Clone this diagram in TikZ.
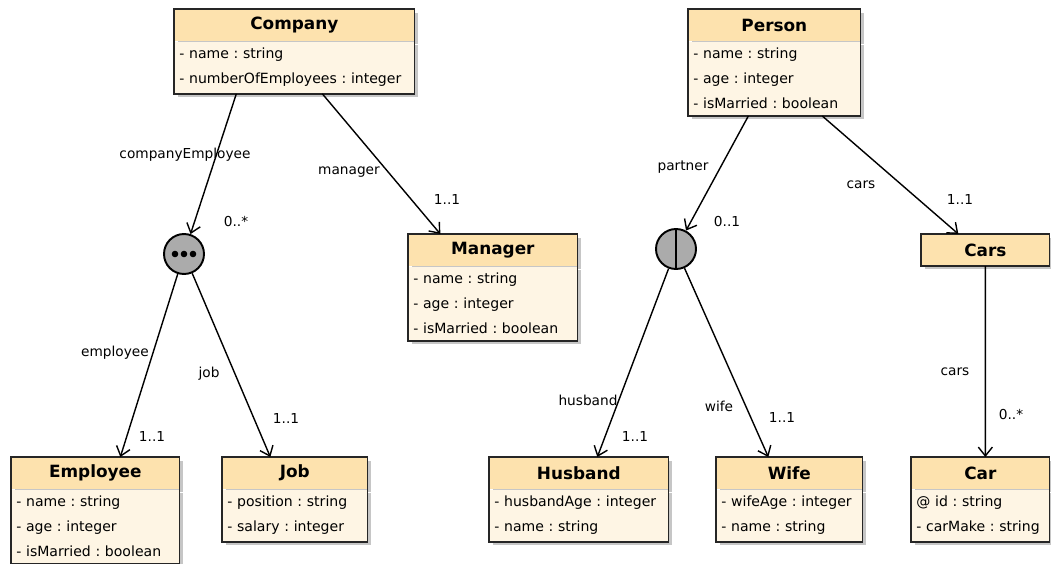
\documentclass[tikz,border=0pt]{standalone}
\usepackage{fontspec}
\setmainfont{DejaVu Sans}
\usetikzlibrary{arrows.meta,shadows}
\frenchspacing

\definecolor{headfill}{HTML}{FDE2AE}
\definecolor{bodyfill}{HTML}{FEF5E4}
\definecolor{choicefill}{HTML}{ABABAB}

\newcommand{\attrfont}{\fontsize{8}{14.2}\selectfont}

\begin{document}
\begin{tikzpicture}[x=0.02cm,y=-0.02cm]
        \tikzset{
            classhead/.style={anchor=north west,fill=headfill,minimum width=#1,minimum height=0.63cm,inner sep=0pt,
                font=\fontsize{9.6}{11}\selectfont\bfseries,
                drop shadow={shadow xshift=2pt,shadow yshift=-2pt,opacity=0.45}},
            classbody/.style={anchor=north west,fill=bodyfill,text width=#1,inner xsep=0.1cm,inner ysep=3.8pt,
                align=left,font=\attrfont,
                drop shadow={shadow xshift=2pt,shadow yshift=-2pt,opacity=0.45}},
            frame/.style={draw=black!85,line width=0.85pt},
            choice/.style={circle,draw=black,line width=1.1pt,fill=choicefill,minimum size=0.8cm,inner sep=0pt},
            link/.style={-{Straight Barb[length=5pt,width=8pt]},line width=0.8pt},
            role/.style={font=\fontsize{7.8}{9}\selectfont,inner sep=1pt},
        }
        \useasboundingbox (0,0) rectangle (1051,564);

        % classes
        \node[classhead=4.8cm] (company) at (174,9) {Company};
        \node[classbody=4.6cm] (companybody) at (company.south west) {- name : string\\- numberOfEmployees : integer};
        \draw[frame] (company.north west) rectangle (companybody.south east);

        \node[classhead=3.44cm] (person) at (688,9) {Person};
        \node[classbody=3.24cm] (personbody) at (person.south west) {- name : string\\- age : integer\\- isMarried : boolean};
        \draw[frame] (person.north west) rectangle (personbody.south east);

        \node[classhead=3.38cm] (manager) at (408,234) {Manager};
        \node[classbody=3.18cm] (managerbody) at (manager.south west) {- name : string\\- age : integer\\- isMarried : boolean};
        \draw[frame] (manager.north west) rectangle (managerbody.south east);

        \node[classhead=2.56cm] (cars) at (921,234) {Cars};
        \draw[frame] (cars.north west) rectangle (cars.south east);

        \node[classhead=3.36cm] (employee) at (11,457) {Employee};
        \node[classbody=3.16cm] (employeebody) at (employee.south west) {- name : string\\- age : integer\\- isMarried : boolean};
        \draw[frame] (employee.north west) rectangle (employeebody.south east);

        \node[classhead=2.9cm] (job) at (222,457) {Job};
        \node[classbody=2.7cm] (jobbody) at (job.south west) {- position : string\\- salary : integer};
        \draw[frame] (job.north west) rectangle (jobbody.south east);

        \node[classhead=3.58cm] (husband) at (489,457) {Husband};
        \node[classbody=3.38cm] (husbandbody) at (husband.south west) {- husbandAge : integer\\- name : string};
        \draw[frame] (husband.north west) rectangle (husbandbody.south east);

        \node[classhead=2.92cm] (wife) at (716,457) {Wife};
        \node[classbody=2.72cm] (wifebody) at (wife.south west) {- wifeAge : integer\\- name : string};
        \draw[frame] (wife.north west) rectangle (wifebody.south east);

        \node[classhead=2.76cm] (car) at (911,457) {Car};
        \node[classbody=2.56cm] (carbody) at (car.south west) {@ id : string\\- carMake : string};
        \draw[frame] (car.north west) rectangle (carbody.south east);

        % choice points
        \node[choice] (allof) at (184,254) {};
        \fill (allof.center) +(-9,0) circle (3.3) +(0,0) circle (3.3) +(9,0) circle (3.3);
        \node[choice] (oneof) at (676,249) {};
        \draw[line width=1.1pt] (oneof.north) -- (oneof.south);

        % references
        \draw[link] ([xshift=-1.16cm]companybody.south) -- (allof);
        \draw[link] ([xshift=0.56cm]companybody.south) -- ([xshift=-1.05cm]manager.north);
        \draw[link] (allof) -- ([xshift=0.5cm]employee.north);
        \draw[link] (allof) -- ([xshift=-0.49cm]job.north);
        \draw[link] ([xshift=-0.52cm]personbody.south) -- (oneof);
        \draw[link] ([xshift=0.96cm]personbody.south) -- ([xshift=-0.54cm]cars.north);
        \draw[link] (oneof) -- ([xshift=0.37cm]husband.north);
        \draw[link] (oneof) -- ([xshift=-0.42cm]wife.north);
        \draw[link] (cars.south) -- ([xshift=0.1cm]car.north);

        % role names and multiplicities
        \node[role] (rcompemp) at (185,155) {companyEmployee};
        \node[role] (mcompemp) at (236,222) {0..*};
        \node[role] (rmanager) at (349,172) {manager};
        \node[role] (mmanager) at (447,200) {1..1};
        \node[role] (remployee) at (115,353) {employee};
        \node[role] (memployee) at (152,437) {1..1};
        \node[role] (rjob) at (209,374) {job};
        \node[role] (mjob) at (286,419) {1..1};
        \node[role] (rpartner) at (683,167) {partner};
        \node[role] (mpartner) at (727,222) {0..1};
        \node[role] (rcars) at (861,185) {cars};
        \node[role] (mcars) at (960,200) {1..1};
        \node[role] (rhusband) at (588,400) {husband};
        \node[role] (mhusband) at (635,437) {1..1};
        \node[role] (rwife) at (719,406) {wife};
        \node[role] (mwife) at (782,418) {1..1};
        \node[role] (rcar) at (955,372) {cars};
        \node[role] (mcar) at (1011,415) {0..*};
    \end{tikzpicture}
\end{document}
